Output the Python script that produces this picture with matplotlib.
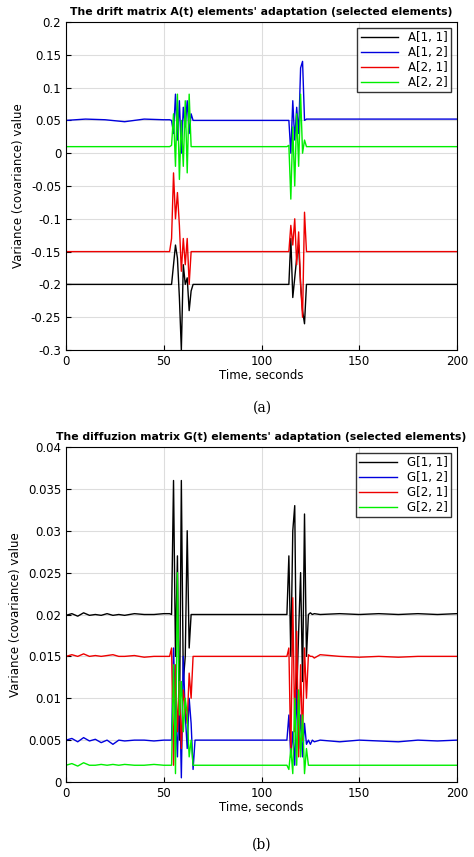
import matplotlib.pyplot as plt

# Panel (a) data
tA = [0, 10, 20, 30, 40, 50, 53, 54, 55, 56, 57, 58, 59, 60, 61, 62, 63, 64, 65, 66, 80, 100, 113, 114, 115, 116, 117, 118, 119, 120, 121, 122, 123, 124, 125, 126, 127, 150, 175, 200]
A11 = [-0.2, -0.2, -0.2, -0.2, -0.2, -0.2, -0.2, -0.2, -0.17, -0.14, -0.16, -0.22, -0.3, -0.17, -0.2, -0.19, -0.24, -0.21, -0.2, -0.2, -0.2, -0.2, -0.2, -0.2, -0.13, -0.22, -0.19, -0.16, -0.14, -0.2, -0.24, -0.26, -0.2, -0.2, -0.2, -0.2, -0.2, -0.2, -0.2, -0.2]
A12 = [0.05, 0.052, 0.051, 0.048, 0.052, 0.051, 0.051, 0.05, 0.03, 0.09, 0.02, 0.08, 0.0, 0.07, 0.04, 0.08, 0.03, 0.06, 0.05, 0.05, 0.05, 0.05, 0.05, 0.05, 0.0, 0.08, 0.02, 0.07, 0.03, 0.13, 0.14, 0.05, 0.052, 0.052, 0.052, 0.052, 0.052, 0.052, 0.052, 0.052]
A21 = [-0.15, -0.15, -0.15, -0.15, -0.15, -0.15, -0.15, -0.13, -0.03, -0.1, -0.06, -0.11, -0.18, -0.13, -0.17, -0.13, -0.2, -0.15, -0.15, -0.15, -0.15, -0.15, -0.15, -0.15, -0.11, -0.14, -0.1, -0.17, -0.12, -0.2, -0.25, -0.09, -0.15, -0.15, -0.15, -0.15, -0.15, -0.15, -0.15, -0.15]
A22 = [0.01, 0.01, 0.01, 0.01, 0.01, 0.01, 0.01, 0.012, 0.06, -0.02, 0.09, -0.04, 0.05, -0.02, 0.08, -0.03, 0.09, 0.01, 0.01, 0.01, 0.01, 0.01, 0.01, 0.012, -0.07, 0.04, -0.05, 0.06, -0.02, 0.09, 0.0, 0.02, 0.01, 0.01, 0.01, 0.01, 0.01, 0.01, 0.01, 0.01]

# Panel (b) data
tG = [0, 3, 6, 9, 12, 15, 18, 21, 24, 27, 30, 35, 40, 45, 50, 53, 54, 55, 56, 57, 58, 59, 60, 61, 62, 63, 64, 65, 66, 80, 100, 113, 114, 115, 116, 117, 118, 119, 120, 121, 122, 123, 124, 125, 126, 127, 130, 140, 150, 160, 170, 180, 190, 200]
G11 = [0.0199, 0.0201, 0.0198, 0.0202, 0.0199, 0.02, 0.0199, 0.0201, 0.0199, 0.02, 0.0199, 0.0201, 0.02, 0.02, 0.0201, 0.0201, 0.02, 0.036, 0.015, 0.027, 0.005, 0.036, 0.012, 0.015, 0.03, 0.016, 0.02, 0.02, 0.02, 0.02, 0.02, 0.02, 0.027, 0.015, 0.03, 0.033, 0.01, 0.018, 0.025, 0.012, 0.032, 0.015, 0.02, 0.0202, 0.02, 0.0201, 0.02, 0.0201, 0.02, 0.0201, 0.02, 0.0201, 0.02, 0.0201]
G12 = [0.005, 0.0052, 0.0048, 0.0053, 0.0049, 0.0051, 0.0047, 0.005, 0.0045, 0.005, 0.0049, 0.005, 0.005, 0.0049, 0.005, 0.005, 0.005, 0.016, 0.008, 0.003, 0.012, 0.0005, 0.015, 0.008, 0.004, 0.01, 0.007, 0.0015, 0.005, 0.005, 0.005, 0.005, 0.008, 0.003, 0.006, 0.002, 0.011, 0.004, 0.008, 0.003, 0.007, 0.0045, 0.005, 0.0045, 0.005, 0.0048, 0.005, 0.0048, 0.005, 0.0049, 0.0048, 0.005, 0.0049, 0.005]
G21 = [0.015, 0.0152, 0.015, 0.0153, 0.015, 0.0151, 0.015, 0.0151, 0.0152, 0.015, 0.015, 0.0151, 0.0149, 0.015, 0.015, 0.015, 0.016, 0.002, 0.014, 0.006, 0.012, 0.004, 0.011, 0.009, 0.007, 0.013, 0.01, 0.015, 0.015, 0.015, 0.015, 0.015, 0.016, 0.003, 0.022, 0.006, 0.018, 0.003, 0.014, 0.005, 0.016, 0.01, 0.0152, 0.015, 0.015, 0.0148, 0.0152, 0.015, 0.0149, 0.015, 0.0149, 0.015, 0.015, 0.015]
G22 = [0.002, 0.0022, 0.0019, 0.0023, 0.002, 0.002, 0.0021, 0.002, 0.0021, 0.002, 0.0021, 0.002, 0.002, 0.0021, 0.002, 0.002, 0.002, 0.014, 0.001, 0.025, 0.008, 0.012, 0.006, 0.01, 0.008, 0.003, 0.005, 0.002, 0.002, 0.002, 0.002, 0.002, 0.0015, 0.004, 0.001, 0.01, 0.002, 0.011, 0.003, 0.008, 0.001, 0.004, 0.002, 0.002, 0.002, 0.002, 0.002, 0.002, 0.002, 0.002, 0.002, 0.002, 0.002, 0.002]

colors = ['black', '#0000dd', '#ee0000', '#00ee00']

fig = plt.figure(figsize=(4.74, 8.57), dpi=100)
ax1 = fig.add_axes([66/474, 1-350/857, 391/474, 328/857])
ax2 = fig.add_axes([66/474, 1-782/857, 391/474, 335/857])

for ax, t, ys, names, ylim, yt, title in [
    (ax1, tA, [A11, A12, A21, A22], ['A[1, 1]', 'A[1, 2]', 'A[2, 1]', 'A[2, 2]'], (-0.3, 0.2),
     [-0.3, -0.25, -0.2, -0.15, -0.1, -0.05, 0, 0.05, 0.1, 0.15, 0.2],
     "The drift matrix A(t) elements' adaptation (selected elements)"),
    (ax2, tG, [G11, G12, G21, G22], ['G[1, 1]', 'G[1, 2]', 'G[2, 1]', 'G[2, 2]'], (0, 0.04),
     [0, 0.005, 0.01, 0.015, 0.02, 0.025, 0.03, 0.035, 0.04],
     "The diffuzion matrix G(t) elements' adaptation (selected elements)")]:
    for y, c, n in zip(ys, colors, names):
        ax.plot(t, y, color=c, lw=1, label=n)
    ax.set_xlim(0, 200)
    ax.set_ylim(*ylim)
    ax.set_yticks(yt)
    ax.set_yticklabels([('%g' % v) for v in yt])
    ax.set_xticks([0, 50, 100, 150, 200])
    ax.grid(True, color='#dddddd', lw=0.8)
    ax.tick_params(labelsize=8.5, direction='in')
    ax.set_xlabel('Time, seconds', fontsize=8.5, labelpad=1)
    ax.set_ylabel('Variance (covariance) value', fontsize=8.5)
    ax.set_title(title, fontsize=7.8, fontweight='bold', pad=5)
    ax.legend(loc='upper right', fontsize=8.5, fancybox=False, edgecolor='black',
              handlelength=3.2, borderpad=0.3, labelspacing=0.15)

fig.text(262/474, 1-408/857, '(a)', ha='center', va='center', fontsize=10, family='serif')
fig.text(262/474, 1-845/857, '(b)', ha='center', va='center', fontsize=10, family='serif')
fig.savefig('out.png', dpi=100)
